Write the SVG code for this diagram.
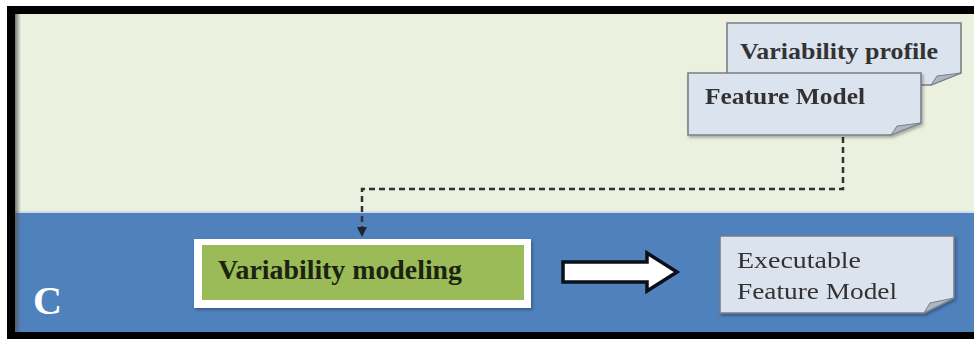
<svg xmlns="http://www.w3.org/2000/svg" width="974" height="339" viewBox="0 0 974 339">
  <defs>
    <style>
      .doc { fill: #dbe3ef; stroke: #7a7f88; stroke-width: 1.6; }
      .fold { fill: #aeb6c2; stroke: #7a7f88; stroke-width: 1; }
      .doctext { font-family: "Liberation Serif", "DejaVu Serif", serif; font-size: 24px; fill: #333333; }
      .flow { fill: none; stroke: #2e3338; stroke-width: 2.5; stroke-dasharray: 6 4; }
    </style>
    <linearGradient id="edgeShade" x1="0" y1="0" x2="1" y2="0">
      <stop offset="0" stop-color="#555555" stop-opacity="0.8"/>
      <stop offset="1" stop-color="#555555" stop-opacity="0"/>
    </linearGradient>
    <marker id="tip" viewBox="0 0 10 10" refX="9" refY="5" markerWidth="4" markerHeight="4" orient="auto">
      <path d="M0,0 L10,5 L0,10 Z" fill="#1c2430"/>
    </marker>
    <filter id="soft" x="-5%" y="-10%" width="115%" height="130%">
      <feDropShadow dx="1.5" dy="2" stdDeviation="1.5" flood-color="#000" flood-opacity="0.3"/>
    </filter>
  </defs>

  <!-- frame and swimlane backgrounds -->
  <rect x="0" y="0" width="974" height="339" fill="#ffffff"/>
  <rect x="7" y="6" width="967" height="333" fill="#000000"/>
  <rect x="15" y="14" width="959" height="199" fill="#ebf1de"/>
  <rect x="15" y="213" width="959" height="119" fill="#4f81bd"/>
  <rect x="15" y="211" width="959" height="2" fill="#cfdcea"/>
  <rect x="15" y="14" width="6" height="318" fill="url(#edgeShade)"/>

  <!-- lane label -->
  <text x="33" y="314" font-family="Liberation Serif, serif" font-weight="bold" font-size="40" fill="#ffffff" textLength="29" lengthAdjust="spacingAndGlyphs">C</text>

  <!-- connectors -->
  <g id="connectors">
    <path class="flow" d="M843,137 V189 H362 V236" marker-end="url(#tip)"/>
    <!-- block arrow to output -->
    <path d="M563,262 H647 V253 L677,272 L647,291 V282 H563 Z" fill="#ffffff" stroke="#0a0f18" stroke-width="3.5" stroke-linejoin="miter"/>
  </g>

  <!-- input artefacts -->
  <g id="variability-profile">
    <path class="doc" d="M727,23 H961 V73 L931,85 H727 Z"/>
    <path class="fold" d="M931,85 L937,76 L961,73 Z"/>
    <text class="doctext" x="740" y="59" font-weight="bold" textLength="198" lengthAdjust="spacingAndGlyphs">Variability profile</text>
  </g>

  <g id="feature-model" filter="url(#soft)">
    <path class="doc" d="M688,73 H921 V123 L891,135 H688 Z"/>
    <path class="fold" d="M891,135 L897,126 L921,123 Z"/>
    <text class="doctext" x="705" y="104" font-weight="bold" textLength="160" lengthAdjust="spacingAndGlyphs">Feature Model</text>
  </g>

  <!-- activity -->
  <g id="variability-modeling">
    <rect x="194" y="239" width="337" height="69" fill="#ffffff" filter="url(#soft)"/>
    <rect x="202" y="245" width="322" height="55" fill="#9bbb59"/>
    <text x="218" y="279" font-family="Liberation Serif, serif" font-weight="bold" font-size="28" fill="#1a2410" textLength="244" lengthAdjust="spacingAndGlyphs">Variability modeling</text>
  </g>

  <!-- output artefact -->
  <g id="executable-feature-model" filter="url(#soft)">
    <path class="doc" d="M720,236 H954 V298 L924,313 H720 Z"/>
    <path class="fold" d="M924,313 L930,303 L954,298 Z"/>
    <text class="doctext" x="737" y="268" textLength="124" lengthAdjust="spacingAndGlyphs">Executable</text>
    <text class="doctext" x="737" y="299" textLength="160" lengthAdjust="spacingAndGlyphs">Feature Model</text>
  </g>
</svg>
